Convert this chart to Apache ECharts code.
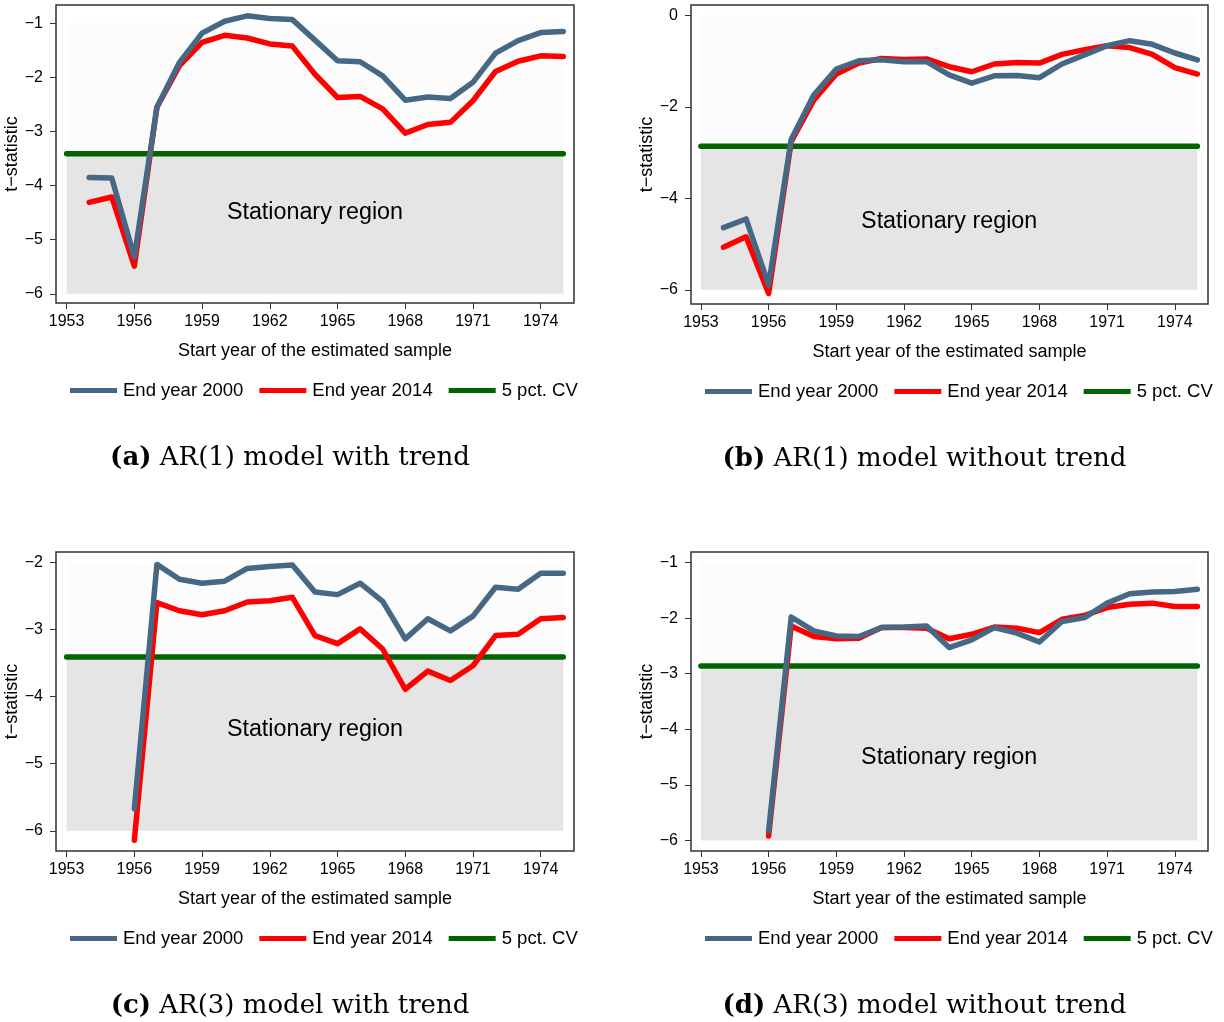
<!DOCTYPE html>
<html>
<head>
<meta charset="utf-8">
<script src="https://cdn.jsdelivr.net/npm/echarts@6/dist/echarts.min.js"></script>
<style>html,body{margin:0;background:#fff}#main{width:1224px;height:1022px}</style>
</head>
<body>
<div id="main"></div>
<script>
// start years of the estimated sample
var yearsAR1 = [1954,1955,1956,1957,1958,1959,1960,1961,1962,1963,1964,1965,1966,1967,1968,1969,1970,1971,1972,1973,1974,1975]
var yearsAR3 = [1956,1957,1958,1959,1960,1961,1962,1963,1964,1965,1966,1967,1968,1969,1970,1971,1972,1973,1974,1975]

// (a) AR(1) with trend
var a2000 = [-3.85,-3.86,-5.32,-2.55,-1.72,-1.18,-0.96,-0.86,-0.91,-0.93,-1.31,-1.69,-1.71,-1.97,-2.42,-2.36,-2.39,-2.09,-1.55,-1.32,-1.17,-1.15]
var a2014 = [-4.31,-4.21,-5.49,-2.55,-1.78,-1.35,-1.22,-1.27,-1.38,-1.42,-1.94,-2.37,-2.35,-2.58,-3.03,-2.87,-2.83,-2.43,-1.89,-1.70,-1.60,-1.61]
// (b) AR(1) without trend
var b2000 = [-4.64,-4.45,-5.89,-2.71,-1.74,-1.17,-0.99,-0.97,-1.01,-1.01,-1.30,-1.48,-1.32,-1.31,-1.36,-1.06,-0.86,-0.66,-0.55,-0.63,-0.82,-0.97]
var b2014 = [-5.07,-4.84,-6.08,-2.76,-1.85,-1.28,-1.04,-0.94,-0.96,-0.95,-1.12,-1.23,-1.06,-1.03,-1.04,-0.85,-0.75,-0.66,-0.70,-0.85,-1.14,-1.28]
// (c) AR(3) with trend
var c2000 = [-5.67,-2.03,-2.25,-2.31,-2.28,-2.09,-2.06,-2.04,-2.44,-2.48,-2.31,-2.58,-3.14,-2.84,-3.02,-2.80,-2.37,-2.40,-2.16,-2.16]
var c2014 = [-6.14,-2.60,-2.72,-2.78,-2.72,-2.59,-2.57,-2.52,-3.09,-3.21,-2.99,-3.29,-3.89,-3.62,-3.76,-3.54,-3.09,-3.07,-2.84,-2.82]
// (d) AR(3) without trend
var d2000 = [-5.83,-1.98,-2.23,-2.32,-2.33,-2.17,-2.16,-2.14,-2.53,-2.39,-2.17,-2.27,-2.43,-2.06,-1.99,-1.73,-1.56,-1.53,-1.52,-1.48]
var d2014 = [-5.92,-2.14,-2.33,-2.37,-2.36,-2.17,-2.17,-2.18,-2.37,-2.29,-2.16,-2.18,-2.26,-2.02,-1.95,-1.81,-1.75,-1.73,-1.79,-1.79]

// 5 pct. critical values
var cvTrend = -3.41
var cvNoTrend = -2.86

var xTicks = [1953,1956,1959,1962,1965,1968,1971,1974]
var aTicks = [-6,-5,-4,-3,-2,-1]
var bTicks = [-6,-4,-2,0]
var cTicks = [-6,-5,-4,-3,-2]
var dTicks = [-6,-5,-4,-3,-2,-1]

var names = ['End year 2000', 'End year 2014', '5 pct. CV']
var captions = [['(a)', ' AR(1) model with trend'], ['(b)', ' AR(1) model without trend'],
    ['(c)', ' AR(3) model with trend'], ['(d)', ' AR(3) model without trend']]

var sans = '"Liberation Sans", Arial, sans-serif'
var blue = '#466884', red = '#ff0000', green = '#006400'

function pairs(xs, ys) {
    return xs.map(function (x, i) { return [x, ys[i]] })
}

var option = {
    animation: false,
    backgroundColor: '#fff',
    grid: [], xAxis: [], yAxis: [], series: [], legend: [], graphic: []
}

function addPanel(i, box, years, s2000, s2014, cv, ticks, xr, yr, labelOffset) {
    option.grid.push({
        left: box[0], top: box[1], width: box[2], height: box[3],
        show: true, borderColor: '#333', borderWidth: 1.5, backgroundColor: '#fff'
    })
    option.xAxis.push({
        gridIndex: i, type: 'value', min: xr[0], max: xr[1],
        name: 'Start year of the estimated sample', nameLocation: 'middle', nameGap: 39,
        nameTextStyle: {fontFamily: sans, fontSize: 18, color: '#000'},
        axisLine: {show: false, onZero: false}, splitLine: {show: false},
        axisTick: {show: true, inside: false, length: 6, lineStyle: {color: '#333'}, customValues: xTicks},
        axisLabel: {customValues: xTicks, fontFamily: sans, fontSize: 16, color: '#000', margin: 11,
            formatter: function (v) { return String(v) }}
    })
    option.yAxis.push({
        gridIndex: i, type: 'value', min: yr[0], max: yr[1],
        name: 't\u2212statistic', nameLocation: 'middle', nameGap: 28, nameRotate: 90,
        nameTextStyle: {fontFamily: sans, fontSize: 18, color: '#000'},
        axisLine: {show: false, onZero: false}, splitLine: {show: false},
        axisTick: {show: true, inside: false, length: 6, lineStyle: {color: '#333'}, customValues: ticks},
        axisLabel: {customValues: ticks, fontFamily: sans, fontSize: 16, color: '#000', margin: 13,
            formatter: function (v) { return String(v).replace('-', '\u2212') }}
    })
    var top = ticks[ticks.length - 1]
    option.series.push({
        name: names[2], type: 'line', xAxisIndex: i, yAxisIndex: i, z: 2,
        data: [[1953, cv], [1975, cv]], symbol: 'none',
        itemStyle: {color: green}, lineStyle: {color: green, width: 5.5, cap: 'round'},
        markArea: {
            silent: true,
            data: [
                [{coord: [1953, ticks[0]], itemStyle: {color: '#e5e5e5'},
                  label: {show: true, position: 'inside', offset: labelOffset, formatter: 'Stationary region',
                          fontFamily: sans, fontSize: 23.3, color: '#000'}},
                 {coord: [1975, cv]}],
                [{coord: [1953, cv], itemStyle: {color: '#fcfcfc'}, label: {show: false}},
                 {coord: [1975, top]}]
            ]
        }
    })
    option.series.push({
        name: names[1], type: 'line', xAxisIndex: i, yAxisIndex: i, z: 3,
        data: pairs(years, s2014), symbol: 'none',
        itemStyle: {color: red}, lineStyle: {color: red, width: 5.5, cap: 'round', join: 'round'}
    })
    option.series.push({
        name: names[0], type: 'line', xAxisIndex: i, yAxisIndex: i, z: 4,
        data: pairs(years, s2000), symbol: 'none',
        itemStyle: {color: blue}, lineStyle: {color: blue, width: 5.5, cap: 'round', join: 'round'}
    })
    option.legend.push({
        left: box[0] + 9, top: box[1] + box[3] + 73, icon: 'rect',
        itemWidth: 47, itemHeight: 5, itemGap: 16, selectedMode: false,
        textStyle: {fontFamily: sans, fontSize: 18.5, color: '#000', padding: [0, 0, 0, 1]},
        data: names
    })
    option.graphic.push({
        type: 'text', x: box[0] + box[2] / 2 - 25, y: box[1] + box[3] + 155,
        style: {
            text: '{b|' + captions[i][0] + '}' + captions[i][1],
            font: '26px "DejaVu Serif", serif', fill: '#000', align: 'center', verticalAlign: 'middle',
            rich: {b: {font: 'bold 26px "DejaVu Serif", serif', fill: '#000'}}
        }
    })
}

addPanel(0, [56, 5, 518, 298], yearsAR1, a2000, a2014, cvTrend, aTicks, [1952.53, 1975.475], [-6.17, -0.66], [0, -11])
addPanel(1, [691, 5, 517, 299], yearsAR1, b2000, b2014, cvNoTrend, bTicks, [1952.56, 1975.47], [-6.31, 0.23], [0, 4])
addPanel(2, [56, 552, 518, 299], yearsAR3, c2000, c2014, cvTrend, cTicks, [1952.53, 1975.475], [-6.30, -1.845], [0, -14])
addPanel(3, [691, 552, 517, 299], yearsAR3, d2000, d2014, cvNoTrend, dTicks, [1952.56, 1975.47], [-6.19, -0.81], [0, 4])

var myChart = echarts.init(document.getElementById('main'))
myChart.setOption(option)
</script>
</body>
</html>
